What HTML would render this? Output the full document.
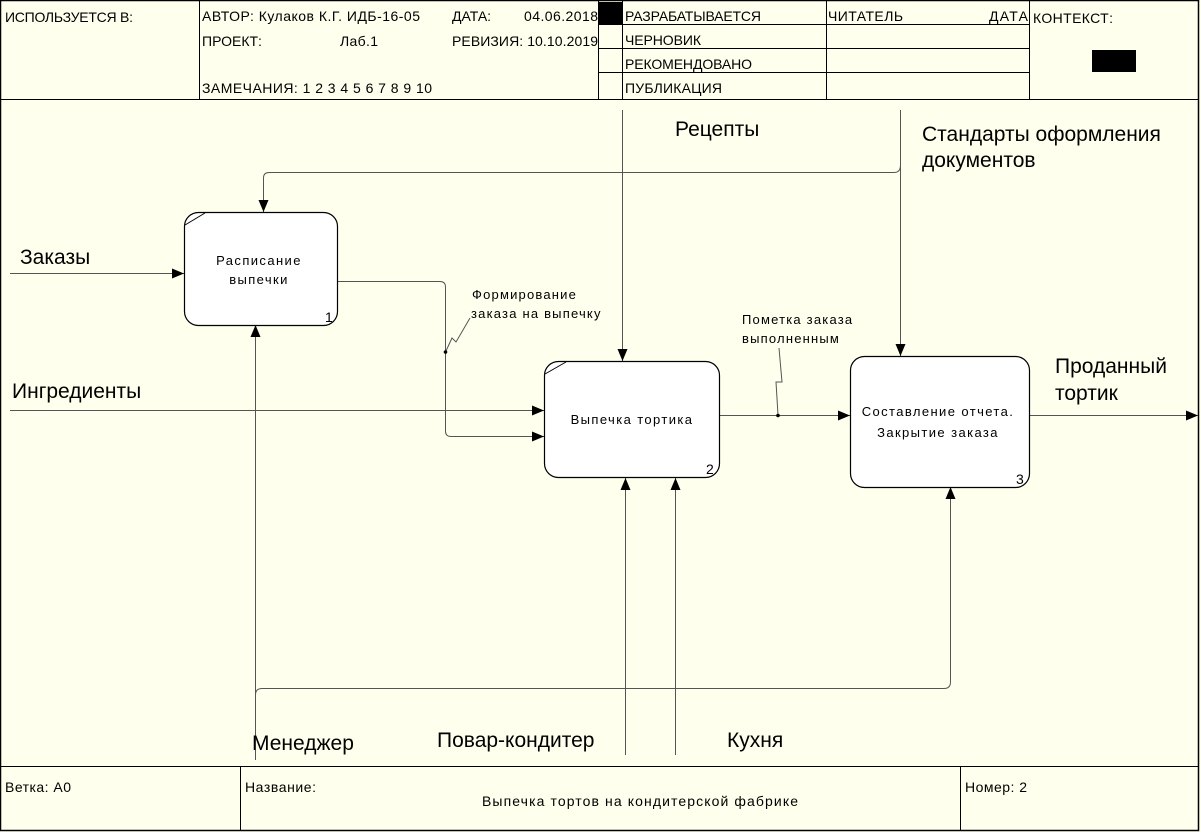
<!DOCTYPE html>
<html><head><meta charset="utf-8"><style>
html,body{margin:0;padding:0;background:#ffffee;}
svg{display:block}
text{font-family:"Liberation Sans","DejaVu Sans",sans-serif;fill:#000}
.h{font-size:14px}
.b{font-size:13px;letter-spacing:1.4px}
.l{font-size:21px}
.s{font-size:13px;letter-spacing:1.2px}
</style></head><body>
<svg width="1201" height="832" viewBox="0 0 1201 832" xmlns="http://www.w3.org/2000/svg">
<defs>
<marker id="a" markerWidth="12" markerHeight="10" refX="12" refY="5" orient="auto" markerUnits="userSpaceOnUse">
<path d="M0,0 L12,5 L0,10 z" fill="#000"/></marker>
</defs>
<rect x="0" y="0" width="1201" height="832" fill="#ffffee"/>
<rect x="0.5" y="0.5" width="1198" height="830" fill="none" stroke="#000" stroke-width="1.5"/>
<g stroke="#000" stroke-width="1" fill="none">
<line x1="0" y1="99.5" x2="1199" y2="99.5"/>
<line x1="199.5" y1="0" x2="199.5" y2="99"/>
<line x1="598.5" y1="0" x2="598.5" y2="99"/>
<line x1="622.5" y1="0" x2="622.5" y2="99"/>
<line x1="826.5" y1="0" x2="826.5" y2="99"/>
<line x1="1029.5" y1="0" x2="1029.5" y2="99"/>
<line x1="598" y1="24.5" x2="1029" y2="24.5"/>
<line x1="598" y1="48.5" x2="1029" y2="48.5"/>
<line x1="598" y1="72.5" x2="1029" y2="72.5"/>
<line x1="0" y1="766.5" x2="1199" y2="766.5"/>
<line x1="240.5" y1="766" x2="240.5" y2="831"/>
<line x1="960.5" y1="766" x2="960.5" y2="831"/>
</g>
<rect x="599" y="2" width="23" height="22" fill="#000"/>
<rect x="1092" y="50" width="44" height="22" fill="#000"/>
<text class="h" x="5" y="22" textLength="128">ИСПОЛЬЗУЕТСЯ В:</text>
<text class="h" x="202" y="21" textLength="218">АВТОР: Кулаков К.Г. ИДБ-16-05</text>
<text class="h" x="452" y="21">ДАТА:</text>
<text class="h" x="524" y="21" textLength="74">04.06.2018</text>
<text class="h" x="202" y="46">ПРОЕКТ:</text>
<text class="h" x="340" y="46" textLength="38">Лаб.1</text>
<text class="h" x="452" y="46" textLength="146">РЕВИЗИЯ: 10.10.2019</text>
<text class="h" x="202" y="93" textLength="230">ЗАМЕЧАНИЯ: 1 2 3 4 5 6 7 8 9 10</text>
<text class="h" x="625" y="21" textLength="136">РАЗРАБАТЫВАЕТСЯ</text>
<text class="h" x="625" y="45" textLength="76">ЧЕРНОВИК</text>
<text class="h" x="625" y="69" textLength="127">РЕКОМЕНДОВАНО</text>
<text class="h" x="625" y="93" textLength="97">ПУБЛИКАЦИЯ</text>
<text class="h" x="828" y="21" textLength="75">ЧИТАТЕЛЬ</text>
<text class="h" x="989" y="21" textLength="39">ДАТА</text>
<text class="h" x="1033" y="23" textLength="80">КОНТЕКСТ:</text>
<text class="h" x="5" y="792" textLength="66">Ветка: А0</text>
<text class="h" x="245" y="792" textLength="71">Название:</text>
<text class="h" x="482" y="806" textLength="316">Выпечка тортов на кондитерской фабрике</text>
<text class="h" x="965" y="792" textLength="62">Номер: 2</text>

<g stroke="#555" stroke-width="1" fill="none">
<line x1="10" y1="273.5" x2="184" y2="273.5" marker-end="url(#a)"/>
<line x1="10" y1="410.5" x2="544" y2="410.5" marker-end="url(#a)"/>
<path d="M338,281.5 H440 Q445.5,281.5 445.5,287 V431 Q445.5,436.5 451,436.5 H544" marker-end="url(#a)"/>
<path d="M445.5,352 L452,338 L456,342 L470,318"/>
<line x1="622.5" y1="110" x2="622.5" y2="361" marker-end="url(#a)"/>
<line x1="900.5" y1="110" x2="900.5" y2="356" marker-end="url(#a)"/>
<path d="M900.5,165 Q900.5,172.5 894,172.5 H269 Q263.5,172.5 263.5,178 V212" marker-end="url(#a)"/>
<line x1="720" y1="415.5" x2="850" y2="415.5" marker-end="url(#a)"/>
<path d="M778,415 L776,382 L782,382 L779,348"/>
<line x1="1030" y1="415.5" x2="1198" y2="415.5" marker-end="url(#a)"/>
<line x1="255.5" y1="760" x2="255.5" y2="325" marker-end="url(#a)"/>
<path d="M255.5,695 Q255.5,688.5 262,688.5 H944 Q950.5,688.5 950.5,682 V487" marker-end="url(#a)"/>
<line x1="625.5" y1="755" x2="625.5" y2="478" marker-end="url(#a)"/>
<line x1="675.5" y1="755" x2="675.5" y2="478" marker-end="url(#a)"/>
</g>
<circle cx="445.5" cy="352" r="1.8" fill="#000"/>
<circle cx="778" cy="415.5" r="1.8" fill="#000"/>

<g stroke="#000" stroke-width="1.2" fill="#fff">
<rect x="184.5" y="212.5" width="153" height="113" rx="14"/>
<rect x="544.5" y="361.5" width="175" height="116" rx="14"/>
<rect x="850.5" y="356.5" width="179" height="131" rx="14"/>
</g>
<g stroke="#000" stroke-width="1">
<line x1="185" y1="225" x2="205" y2="213"/>
<line x1="545" y1="374" x2="566" y2="362"/>
</g>
<text class="b" x="259" y="265" text-anchor="middle">Расписание</text>
<text class="b" x="259" y="284" text-anchor="middle">выпечки</text>
<text class="b" x="632" y="424" text-anchor="middle">Выпечка тортика</text>
<text class="b" x="938" y="416" text-anchor="middle">Составление отчета.</text>
<text class="b" x="938" y="437" text-anchor="middle">Закрытие заказа</text>
<text class="h" x="325" y="322">1</text>
<text class="h" x="706" y="474">2</text>
<text class="h" x="1016" y="484">3</text>

<text class="s" x="472" y="299">Формирование</text>
<text class="s" x="471" y="318">заказа на выпечку</text>
<text class="s" x="742" y="324">Пометка заказа</text>
<text class="s" x="742" y="343">выполненным</text>

<text class="l" x="20" y="264">Заказы</text>
<text class="l" x="12" y="398">Ингредиенты</text>
<text class="l" x="675" y="136">Рецепты</text>
<text class="l" x="922" y="141">Стандарты оформления</text>
<text class="l" x="922" y="167">документов</text>
<text class="l" x="1055" y="373">Проданный</text>
<text class="l" x="1055" y="400">тортик</text>
<text class="l" x="252" y="750">Менеджер</text>
<text class="l" x="437" y="747">Повар-кондитер</text>
<text class="l" x="727" y="747">Кухня</text>
</svg>
</body></html>
